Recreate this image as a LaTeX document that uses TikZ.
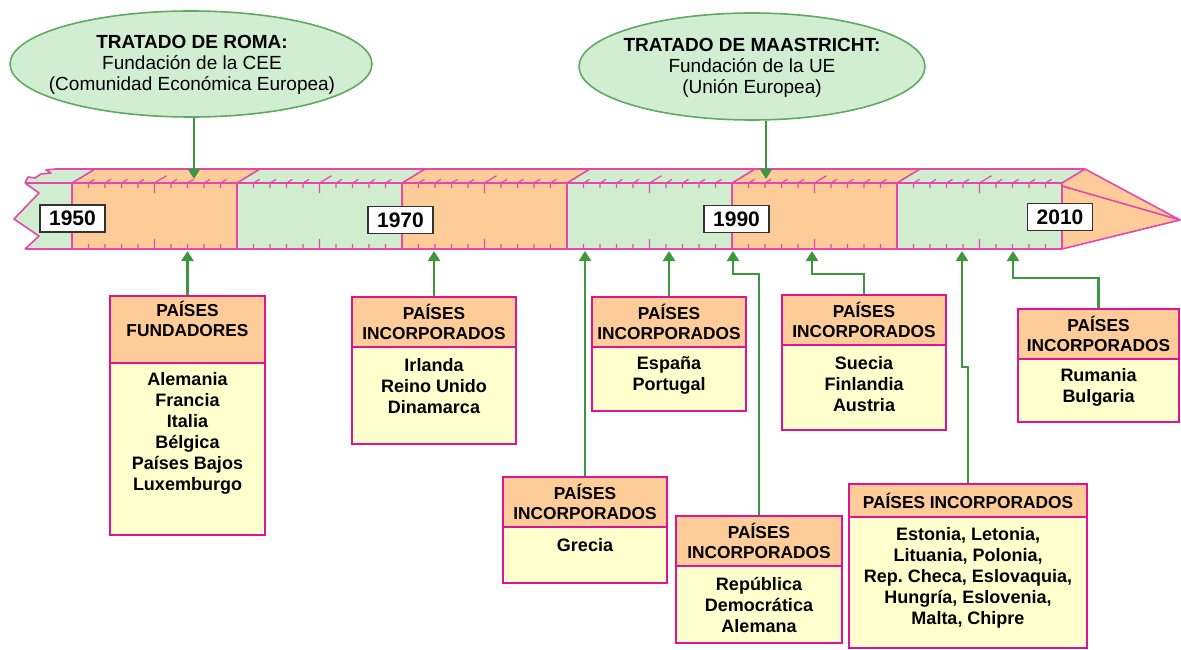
\documentclass[tikz,border=0pt]{standalone}
\usepackage{fontspec}
\setmainfont{Liberation Sans}
\usetikzlibrary{shapes.geometric,arrows.meta,fit}
\definecolor{tlgreen}{RGB}{208,237,208}
\definecolor{tlorange}{RGB}{253,204,153}
\definecolor{tlpink}{RGB}{228,72,172}
\definecolor{bxmag}{RGB}{221,20,150}
\definecolor{bxyellow}{RGB}{255,255,206}
\definecolor{cngreen}{RGB}{62,150,62}
\definecolor{elfill}{RGB}{210,238,210}
\definecolor{elline}{RGB}{95,170,95}
\frenchspacing
\begin{document}
\begin{tikzpicture}[x=1pt,y=-1pt,
  tl/.style={draw=tlpink,line width=1.6pt,line join=round},
  tick/.style={draw=tlpink,line width=1.2pt},
  hdr/.style={draw=bxmag,fill=tlorange,line width=2.4pt,inner sep=0pt},
  bdy/.style={draw=bxmag,fill=bxyellow,line width=2.4pt,inner sep=0pt},
  htxt/.style={font=\fontsize{17.3}{20.5}\selectfont\bfseries,align=center,inner sep=0pt},
  btxt/.style={font=\fontsize{18}{21}\selectfont\bfseries,align=center,inner sep=0pt},
  conn/.style={draw=cngreen,line width=2.4pt,-{Triangle[width=12pt,length=10pt]}},
  treaty/.style={ellipse,draw=elline,fill=elfill,line width=1.6pt,inner sep=0pt},
  ttxt/.style={align=center,inner sep=0pt,font=\fontsize{19}{21}\selectfont},
  yearbox/.style={draw=black!80,fill=white,line width=1.5pt,inner sep=0pt,minimum width=65pt,minimum height=27pt,font=\fontsize{21}{21}\selectfont\bfseries}
]
\useasboundingbox (0,0) rectangle (1181,650);

% treaties
\node[treaty,minimum width=362pt,minimum height=106pt] (roma) at (191,64) {};
\node[ttxt] (romat) at (192,65)
  {\textbf{TRATADO DE ROMA:}\\Fundación de la CEE\\(Comunidad Económica Europea)};
\node[treaty,minimum width=346pt,minimum height=107pt] (maas) at (752,66.5) {};
\node[ttxt] (maast) at (752,68)
  {\textbf{TRATADO DE MAASTRICHT:}\\Fundación de la UE\\(Unión Europea)};

% ---- timeline ----
\fill[tlgreen] (25,183) -- (72,183) -- (72,249) -- (25,249) -- (39,236) -- (14,219) -- (39,193) -- cycle;
\fill[tlgreen] (25,183) -- (28,177) -- (35,178) -- (41,174) -- (51,173) -- (46,170) -- (56,169) -- (95,169) -- (72,183) -- cycle;
\foreach \i/\c in {0/tlorange,1/tlgreen,2/tlorange,3/tlgreen,4/tlorange,5/tlgreen}{
  \pgfmathsetmacro\xa{72+165*\i}
  \pgfmathsetmacro\xb{\xa+165}
  \fill[\c] (\xa,183) rectangle (\xb,249);
  \fill[\c] (\xa,183) -- (\xa+23,169) -- (\xb+23,169) -- (\xb,183) -- cycle;
}
\fill[tlorange] (1062,183) -- (1085,169) -- (1180,220) -- (1062,249) -- cycle;
\foreach \k in {1,...,59}{
  \pgfmathtruncatemacro\m{mod(\k,10)}
  \ifnum\m>0
    \pgfmathsetmacro\xx{72+16.5*\k}
    \pgfmathsetmacro\L{(\m==5)?10:5}
    \draw[tick] (\xx,183) -- ++(0,\L) (\xx,249) -- ++(0,-\L) (\xx,183) -- ++(1.2*\L,-0.73*\L);
  \fi
}
\draw[tl] (25,183) -- (28,177) -- (35,178) -- (41,174) -- (51,173) -- (46,170) -- (56,169) -- (1085,169);
\draw[tl] (25,183) -- (1062,183);
\draw[tl] (25,249) -- (1062,249);
\draw[tl] (25,183) -- (39,193) -- (14,219) -- (39,236) -- (25,249);
\foreach \x in {72,237,402,567,732,897}{
  \draw[tl] (\x,249) -- (\x,183) -- (\x+23,169);
}
\draw[tl] (1062,249) -- (1062,183) -- (1085,169) -- (1180,220) -- (1062,249);
\draw[tl] (1062,186) -- (1180,220);

% year labels
\node[yearbox] (yr1950) at (72.5,218.5) {1950};
\node[yearbox] (yr1970) at (400.5,220) {1970};
\node[yearbox] (yr1990) at (736.5,219) {1990};
\node[yearbox] (yr2010) at (1060,217) {2010};

% targets on the timeline
\coordinate (r57) at (194,179);
\coordinate (m92) at (766,179);
\coordinate (c57) at (187.5,251);
\coordinate (c73) at (434,251);
\coordinate (c81) at (585,251);
\coordinate (c86) at (669,251);
\coordinate (c90) at (733,251);
\coordinate (c95) at (812,251);
\coordinate (c04) at (962,251);
\coordinate (c07) at (1013,251);
\coordinate (e90) at (759,274);
\coordinate (e95) at (864,274);
\coordinate (e04) at (968,367);
\coordinate (e07) at (1098.5,278);

% boxes
\node[hdr,fit={(110,296)(265,363)}] (h1) {};
\node[bdy,fit={(110,363)(265,535)}] (b1) {};
\node[htxt] (h1t) at (187.5,319) {PAÍSES\\FUNDADORES};
\node[btxt] (b1t) at (187.5,433) {Alemania\\Francia\\Italia\\Bélgica\\Países Bajos\\Luxemburgo};

\node[hdr,fit={(352,297)(516,347)}] (h2) {};
\node[bdy,fit={(352,347)(516,444)}] (b2) {};
\node[htxt] (h2t) at (h2.center) {PAÍSES\\INCORPORADOS};
\node[btxt] (b2t) at (434,386) {Irlanda\\Reino Unido\\Dinamarca};

\node[hdr,fit={(592,297)(746,347)}] (h3) {};
\node[bdy,fit={(592,347)(746,411)}] (b3) {};
\node[htxt] (h3t) at (h3.center) {PAÍSES\\INCORPORADOS};
\node[btxt] (b3t) at (669,375.5) {España\\Portugal};

\node[hdr,fit={(503,477)(667,527)}] (h4) {};
\node[bdy,fit={(503,527)(667,583)}] (b4) {};
\node[htxt] (h4t) at (h4.center) {PAÍSES\\INCORPORADOS};
\node[btxt] (b4t) at (585,545) {Grecia};

\node[hdr,fit={(676,516)(842,566)}] (h5) {};
\node[bdy,fit={(676,566)(842,643)}] (b5) {};
\node[htxt] (h5t) at (h5.center) {PAÍSES\\INCORPORADOS};
\node[btxt] (b5t) at (759,605) {República\\Democrática\\Alemana};

\node[hdr,fit={(782,295)(946,345)}] (h6) {};
\node[bdy,fit={(782,345)(946,430)}] (b6) {};
\node[htxt] (h6t) at (h6.center) {PAÍSES\\INCORPORADOS};
\node[btxt] (b6t) at (864,384) {Suecia\\Finlandia\\Austria};

\node[hdr,fit={(1018,309)(1179,359)}] (h7) {};
\node[bdy,fit={(1018,359)(1179,422)}] (b7) {};
\node[htxt] (h7t) at (h7.center) {PAÍSES\\INCORPORADOS};
\node[btxt] (b7t) at (1098.5,387) {Rumania\\Bulgaria};

\node[hdr,fit={(849,484)(1087,517)}] (h8) {};
\node[bdy,fit={(849,517)(1087,648)}] (b8) {};
\node[htxt] (h8t) at (h8.center) {PAÍSES INCORPORADOS};
\node[btxt] (b8t) at (968,577.5) {Estonia, Letonia,\\Lituania, Polonia,\\Rep. Checa, Eslovaquia,\\Hungría, Eslovenia,\\Malta, Chipre};

% connectors
\draw[conn] (roma.south -| r57) -- (r57);
\draw[conn] (maas.south -| m92) -- (m92);
\draw[conn] (h1.north) -- (c57);
\draw[conn] (h2.north) -- (c73);
\draw[conn] (h4.north) -- (c81);
\draw[conn] (h3.north) -- (c86);
\draw[conn] (h5.north) -- (e90) -| (c90);
\draw[conn] (h6.north) -- (e95) -| (c95);
\draw[conn] (h8.north) -- (e04) -| (c04);
\draw[conn] (h7.north) -- (e07) -| (c07);
\end{tikzpicture}
\end{document}
